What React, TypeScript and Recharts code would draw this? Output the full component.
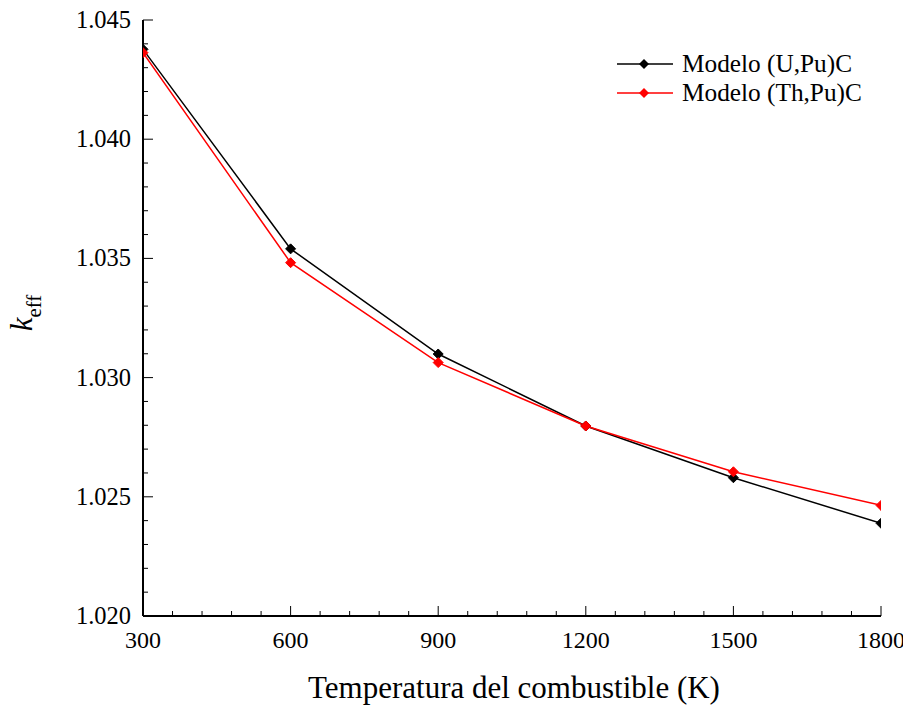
import { LineChart, Line, XAxis, YAxis, Legend, Label } from 'recharts';

const temperatures = [300, 600, 900, 1200, 1500, 1800];
const kUPu = [1.04377, 1.0354, 1.03099, 1.02797, 1.0258, 1.02389];
const kThPu = [1.04363, 1.03482, 1.03063, 1.02797, 1.02605, 1.02464];

const seriesNames = ['Modelo (U,Pu)C', 'Modelo (Th,Pu)C'];
const seriesColors = ['#000000', '#ff0000'];

const xMajor = [300, 600, 900, 1200, 1500, 1800];

const xTicks: number[] = [];
for (let t = 300; t <= 1800; t += 60) xTicks.push(t);
const yTicks: number[] = [];
for (let i = 0; i <= 25; i++) yTicks.push(Number((1.02 + i * 0.001).toFixed(3)));

const data = temperatures.map((t, i) => ({ t, uPu: kUPu[i], thPu: kThPu[i] }));

const FONT = '"Liberation Serif", "Times New Roman", serif';

const isXMajor = (v: number) => xMajor.includes(v);
const isYMajor = (v: number) => Math.round(v * 1000) % 5 === 0;

const BottomTick = (p: any) => {
  const major = isXMajor(p.payload.value);
  return (
    <g>
      <line x1={p.x} y1={p.y} x2={p.x} y2={p.y - (major ? 10 : 5)} stroke="#000" strokeWidth={1} />
      {major && (
        <text x={p.x} y={p.y + 32} textAnchor="middle" fontFamily={FONT} fontSize={24} fill="#000">
          {p.payload.value}
        </text>
      )}
    </g>
  );
};

const TopTick = (p: any) => {
  const major = isXMajor(p.payload.value);
  return <line x1={p.x} y1={p.y} x2={p.x} y2={p.y + (major ? 10 : 5)} stroke="#000" strokeWidth={1} />;
};

const LeftTick = (p: any) => {
  const major = isYMajor(p.payload.value);
  return (
    <g>
      <line x1={p.x} y1={p.y} x2={p.x + (major ? 10 : 5)} y2={p.y} stroke="#000" strokeWidth={1} />
      {major && (
        <text x={p.x - 12} y={p.y + 8} textAnchor="end" fontFamily={FONT} fontSize={24.5} fill="#000">
          {p.payload.value.toFixed(3)}
        </text>
      )}
    </g>
  );
};

const RightTick = (p: any) => {
  const major = isYMajor(p.payload.value);
  return <line x1={p.x} y1={p.y} x2={p.x - (major ? 10 : 5)} y2={p.y} stroke="#000" strokeWidth={1} />;
};

const diamond = (color: string) => (p: any) => {
  const { cx, cy, index } = p;
  if (cx == null || cy == null) return <g key={index} />;
  const r = 5;
  return (
    <polygon
      key={index}
      points={`${cx},${cy - r} ${cx + r},${cy} ${cx},${cy + r} ${cx - r},${cy}`}
      fill={color}
      stroke={color}
    />
  );
};

const LegendBox = () => (
  <div style={{ fontFamily: FONT, fontSize: 25.3, color: '#000' }}>
    {seriesNames.map((name, i) => (
      <div key={name} style={{ display: 'flex', alignItems: 'center', height: 29 }}>
        <svg width={56} height={14} style={{ marginRight: 9 }}>
          <line x1={0} y1={7} x2={56} y2={7} stroke={seriesColors[i]} strokeWidth={1.5} />
          <polygon points="27,2 32,7 27,12 22,7" fill={seriesColors[i]} />
        </svg>
        <span style={{ lineHeight: '29px' }}>{name}</span>
      </div>
    ))}
  </div>
);

const YLabel = () => {
  const cx = 24;
  const cy = 305;
  return (
    <text
      x={cx}
      y={cy}
      transform={`rotate(-90 ${cx} ${cy})`}
      textAnchor="middle"
      fontFamily={FONT}
      fill="#000"
    >
      <tspan fontStyle="italic" fontSize={31}>k</tspan>
      <tspan fontSize={21} dy={9}>eff</tspan>
    </text>
  );
};

const XLabel = (props: any) => {
  const vb = props.viewBox || { x: 135, y: 608, width: 738, height: 91 };
  return (
    <text
      x={vb.x + vb.width / 2 + 2}
      y={vb.y + vb.height - 9}
      textAnchor="middle"
      fontFamily={FONT}
      fontSize={31}
      fill="#000"
    >
      Temperatura del combustible (K)
    </text>
  );
};

const App = () => {
  return (
    <LineChart
      width={903}
      height={699}
      data={data}
      margin={{ top: 12, right: 30, bottom: 0, left: 0 }}
    >
      <XAxis
        dataKey="t"
        type="number"
        domain={[300, 1800]}
        ticks={xTicks}
        interval={0}
        allowDataOverflow
        height={91}
        tickSize={0}
        tickMargin={0}
        tickLine={false}
        tick={BottomTick}
        axisLine={{ stroke: '#000', strokeWidth: 2 }}
      >
        <Label content={<XLabel />} />
      </XAxis>
      <XAxis
        xAxisId="top"
        orientation="top"
        dataKey="t"
        type="number"
        domain={[300, 1800]}
        ticks={xTicks}
        interval={0}
        allowDataOverflow
        height={0}
        tickSize={0}
        tickMargin={0}
        tickLine={false}
        tick={TopTick}
        axisLine={{ stroke: '#000', strokeWidth: 2 }}
      />
      <YAxis
        type="number"
        domain={[1.02, 1.045]}
        ticks={yTicks}
        interval={0}
        allowDataOverflow
        width={135}
        tickSize={0}
        tickMargin={0}
        tickLine={false}
        tick={LeftTick}
        axisLine={{ stroke: '#000', strokeWidth: 2 }}
        label={<YLabel />}
      />
      <YAxis
        yAxisId="right"
        orientation="right"
        type="number"
        domain={[1.02, 1.045]}
        ticks={yTicks}
        interval={0}
        allowDataOverflow
        width={0}
        tickSize={0}
        tickMargin={0}
        tickLine={false}
        tick={RightTick}
        axisLine={{ stroke: '#000', strokeWidth: 2 }}
      />
      <Legend
        layout="vertical"
        align="center"
        verticalAlign="middle"
        content={<LegendBox />}
        wrapperStyle={{ left: 609, top: 41, width: 'auto' }}
      />
      <Line
        name={seriesNames[0]}
        dataKey="uPu"
        stroke={seriesColors[0]}
        strokeWidth={1.5}
        dot={diamond(seriesColors[0])}
        isAnimationActive={false}
      />
      <Line
        name={seriesNames[1]}
        dataKey="thPu"
        stroke={seriesColors[1]}
        strokeWidth={1.5}
        dot={diamond(seriesColors[1])}
        isAnimationActive={false}
      />
    </LineChart>
  );
};

export default App;
